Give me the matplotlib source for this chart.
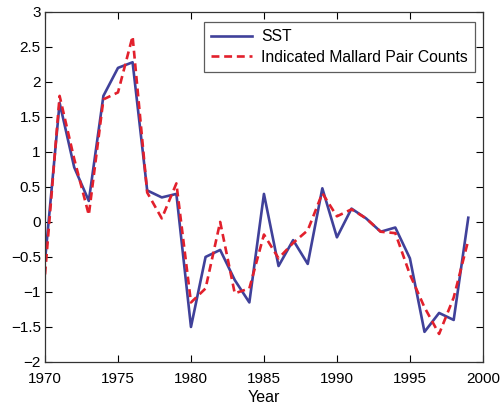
import matplotlib
matplotlib.use("Agg")
import matplotlib.pyplot as plt

plt.rcParams['font.family'] = ['Liberation Sans', 'DejaVu Sans']

years = list(range(1970, 2000))
sst = [-0.55, 1.7, 0.78, 0.3, 1.8, 2.2, 2.28, 0.45, 0.35, 0.4,
       -1.5, -0.5, -0.4, -0.83, -1.15, 0.4, -0.63, -0.26, -0.6, 0.48,
       -0.22, 0.19, 0.05, -0.14, -0.08, -0.52, -1.57, -1.3, -1.4, 0.06]
mallard = [-0.75, 1.8, 0.9, 0.1, 1.75, 1.85, 2.65, 0.42, 0.05, 0.55,
           -1.15, -0.95, 0.0, -1.02, -0.95, -0.18, -0.52, -0.3, -0.12, 0.41,
           0.08, 0.18, 0.05, -0.14, -0.16, -0.75, -1.22, -1.6, -1.08, -0.26]
xticks = [1970, 1975, 1980, 1985, 1990, 1995, 2000]
yticks = [-2, -1.5, -1, -0.5, 0, 0.5, 1, 1.5, 2, 2.5, 3]
ylabels = ['\u22122', '\u22121.5', '\u22121', '\u22120.5', '0', '0.5', '1', '1.5', '2', '2.5', '3']

fig = plt.figure(figsize=(5.03, 4.09), dpi=100)
ax = fig.add_axes([0.0895, 0.115, 0.8705, 0.856])
ax.plot(years, sst, color='#40419a', lw=1.9, label='SST')
ax.plot(years, mallard, color='#e2202c', lw=1.9, ls=(0, (3.0, 1.8)), label='Indicated Mallard Pair Counts')
ax.set_xlim(1970, 2000)
ax.set_ylim(-2, 3)
ax.set_xticks(xticks)
ax.set_yticks(yticks)
ax.set_yticklabels(ylabels)
ax.tick_params(direction='in', top=True, right=True, labelsize=11, length=5, width=0.8)
ax.tick_params(axis='x', pad=7)
ax.tick_params(axis='y', pad=3)
for s in ax.spines.values():
    s.set_linewidth(0.9)
    s.set_color('#333333')
ax.set_xlabel('Year', fontsize=11.5, labelpad=3)
leg = ax.legend(loc='upper right', bbox_to_anchor=(0.982, 0.971), borderaxespad=0,
                fontsize=11.3, frameon=True,
                fancybox=False, edgecolor='#333333', handlelength=2.6, borderpad=0.45,
                labelspacing=0.35, handletextpad=0.6)
leg.get_frame().set_linewidth(0.9)
fig.savefig('out.png', dpi=100)
